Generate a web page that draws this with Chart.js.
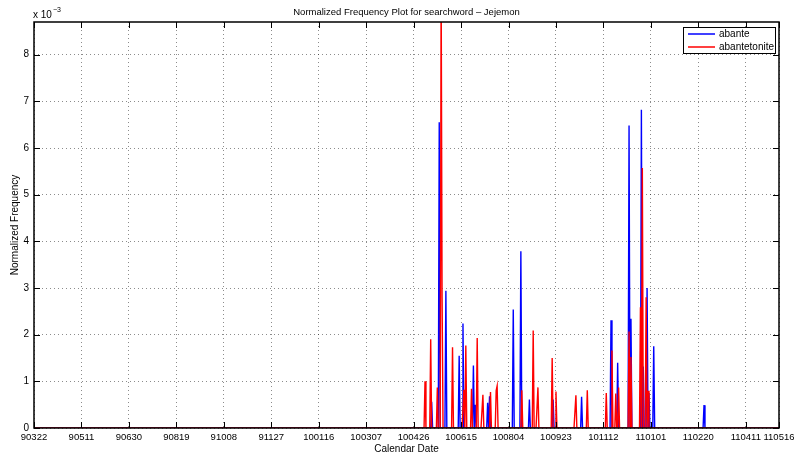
<!DOCTYPE html>
<html>
<head>
<meta charset="utf-8">
<title>Normalized Frequency Plot</title>
<script src="https://cdn.jsdelivr.net/npm/chart.js@4.4.0/dist/chart.umd.min.js"></script>
<style>
    html, body { margin: 0; padding: 0; background: #fff; }
    #wrap { width: 794px; height: 455px; position: relative; }
</style>
</head>
<body>
<div id="wrap"><canvas id="freqChart" width="794" height="455"></canvas></div>
<script>
// day 0 = 2009-03-22, last day = 2011-05-16
const startDate = Date.UTC(2009, 2, 22);
const lastDay = 785;
const tickDays = [0, 50, 100, 150, 200, 250, 300, 350, 400, 450, 500, 550, 600, 650, 700, 750, 785];
const yTicks = [0, 1, 2, 3, 4, 5, 6, 7, 8]; // x 10^-3
const yMax = 8.7;

// nonzero days only, values in units of 10^-3
const abanteDays = [419, 427, 434, 448, 452, 463, 465, 478, 480, 505, 513, 522, 547, 577, 608, 615, 627, 629, 640, 642, 646, 648, 653, 706];
const abanteValues = [0.56, 6.55, 2.94, 1.55, 2.24, 1.34, 0.50, 0.54, 0.68, 2.54, 3.79, 0.61, 0.61, 0.67, 2.31, 1.40, 6.48, 2.34, 6.82, 1.32, 3.00, 0.75, 1.75, 0.49];

const abantetoniteDays = [412, 418, 425, 429, 430, 441, 453, 455, 461, 467, 473, 481, 487, 488, 514, 526, 531, 546, 550, 571, 583, 603, 609, 613, 616, 627, 629, 639, 641, 645, 647];
const abantetoniteValues = [1.00, 1.90, 0.87, 9.60, 2.79, 1.73, 0.82, 1.77, 0.84, 1.93, 0.71, 0.77, 0.80, 0.90, 0.81, 2.09, 0.87, 1.50, 0.78, 0.70, 0.81, 0.75, 1.66, 0.74, 0.87, 2.07, 1.52, 2.59, 5.57, 2.80, 0.80];

const FONT = '"Liberation Sans", Arial, Helvetica, sans-serif';

function dailySeries(days, values) {
    const out = [];
    for (let d = 0; d <= lastDay; d++) out.push({ x: d, y: 0 });
    days.forEach((d, i) => { out[d].y = values[i]; });
    return out;
}

function dayLabel(day) {
    const dt = new Date(startDate + day * 86400000);
    const yy = dt.getUTCFullYear() - 2000;
    const mm = String(dt.getUTCMonth() + 1).padStart(2, '0');
    const dd = String(dt.getUTCDate()).padStart(2, '0');
    return yy + mm + dd;
}

// MATLAB style frame: box, inward ticks, title, labels, legend
const matlabFrame = {
    id: 'matlabFrame',
    afterDraw(chart) {
        const ctx = chart.ctx;
        const a = chart.chartArea;
        const xs = chart.scales.x, ys = chart.scales.y;
        ctx.save();

        ctx.strokeStyle = '#000';
        ctx.lineWidth = 1;
        ctx.beginPath();
        tickDays.forEach(d => {
            const px = Math.round(xs.getPixelForValue(d)) + 0.5;
            ctx.moveTo(px, a.bottom); ctx.lineTo(px, a.bottom - 6);
            ctx.moveTo(px, a.top); ctx.lineTo(px, a.top + 6);
        });
        yTicks.forEach(v => {
            const py = Math.round(ys.getPixelForValue(v)) + 0.5;
            ctx.moveTo(a.left, py); ctx.lineTo(a.left + 6, py);
            ctx.moveTo(a.right, py); ctx.lineTo(a.right - 6, py);
        });
        ctx.stroke();

        ctx.lineWidth = 1.5;
        ctx.strokeRect(a.left, a.top, a.right - a.left, a.bottom - a.top);

        ctx.fillStyle = '#000';
        ctx.font = '9.5px ' + FONT;
        ctx.textAlign = 'center';
        ctx.textBaseline = 'middle';
        ctx.fillText('Normalized Frequency Plot for searchword \u2013 Jejemon', (a.left + a.right) / 2, 12);
        ctx.font = '10px ' + FONT;
        ctx.fillText('Calendar Date', (a.left + a.right) / 2, 449);

        ctx.save();
        ctx.translate(15, (a.top + a.bottom) / 2);
        ctx.rotate(-Math.PI / 2);
        ctx.fillText('Normalized Frequency', 0, 0);
        ctx.restore();

        ctx.textAlign = 'left';
        ctx.fillText('x 10', 33, 15);
        ctx.font = '7px ' + FONT;
        ctx.fillText('\u22123', 53, 10);

        // legend
        const lx = 683, ly = 27, lw = 92, lh = 26;
        ctx.fillStyle = '#fff';
        ctx.fillRect(lx, ly, lw, lh);
        ctx.lineWidth = 1;
        ctx.strokeStyle = '#000';
        ctx.strokeRect(lx + 0.5, ly + 0.5, lw, lh);
        const items = [['abante', '#0000ff', 34], ['abantetonite', '#ff0000', 47]];
        ctx.font = '10px ' + FONT;
        items.forEach(([name, col, y]) => {
            ctx.strokeStyle = col;
            ctx.lineWidth = 1.5;
            ctx.beginPath();
            ctx.moveTo(688, y); ctx.lineTo(715, y);
            ctx.stroke();
            ctx.fillStyle = '#000';
            ctx.fillText(name, 719, y);
        });
        ctx.restore();
    }
};

new Chart(document.getElementById('freqChart'), {
    type: 'line',
    data: {
        datasets: [
            {
                label: 'abante',
                data: dailySeries(abanteDays, abanteValues),
                borderColor: '#0000ff',
                borderWidth: 1.4,
                pointRadius: 0,
                tension: 0,
                order: 1
            },
            {
                label: 'abantetonite',
                data: dailySeries(abantetoniteDays, abantetoniteValues),
                borderColor: '#ff0000',
                borderWidth: 1.4,
                pointRadius: 0,
                tension: 0,
                order: 0
            }
        ]
    },
    options: {
        responsive: false,
        animation: false,
        devicePixelRatio: 1,
        layout: { padding: { left: 0, right: 15, top: 22, bottom: 0 } },
        plugins: {
            legend: { display: false },
            tooltip: { enabled: false }
        },
        scales: {
            x: {
                type: 'linear',
                min: 0,
                max: lastDay,
                afterBuildTicks: scale => { scale.ticks = tickDays.map(v => ({ value: v })); },
                afterFit: scale => {
                    scale.height = 27;
                    scale.paddingLeft = 0;
                    scale.paddingRight = 0;
                },
                ticks: {
                    autoSkip: false,
                    maxRotation: 0,
                    padding: 4,
                    color: '#000',
                    font: { size: 9.5, family: FONT },
                    callback: v => dayLabel(v)
                },
                grid: { color: 'rgba(0,0,0,0.45)', drawTicks: false },
                border: { display: false, dash: [1, 3] }
            },
            y: {
                min: 0,
                max: yMax,
                afterBuildTicks: scale => { scale.ticks = yTicks.map(v => ({ value: v })); },
                afterFit: scale => {
                    scale.width = 34;
                    scale.paddingTop = 0;
                    scale.paddingBottom = 0;
                },
                ticks: {
                    padding: 5,
                    color: '#000',
                    font: { size: 10, family: FONT },
                    callback: v => String(v)
                },
                grid: { color: 'rgba(0,0,0,0.45)', drawTicks: false },
                border: { display: false, dash: [1, 3] }
            }
        }
    },
    plugins: [matlabFrame]
});
</script>
</body>
</html>
